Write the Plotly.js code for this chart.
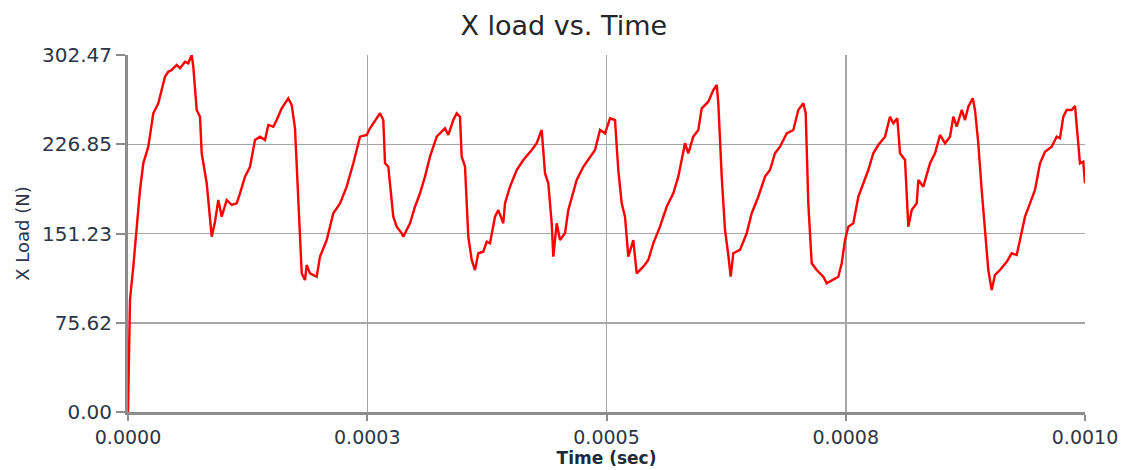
<!DOCTYPE html>
<html>
<head>
<meta charset="utf-8">
<script src="https://cdn.plot.ly/plotly-3.0.1.min.js"></script>
<style>
html,body{margin:0;padding:0;background:#fff;}
#chart{width:1123px;height:470px;}
</style>
</head>
<body>
<div id="chart"></div>
<script>
// Time in microseconds (converted to seconds for plotting)
const timeMicros = [
0,2.09,5.54,9.09,12.54,15.99,21.21,26.44,31.66,38.66,42.11,45.66,50.89,54.34,59.57,63.01,66.56,68.23,71.79,75.23,
77.01,82.24,87.46,90.91,94.36,97.91,103.13,108.36,113.58,117.03,122.26,127.48,132.71,137.93,143.16,146.61,151.83,155.38,160.61,167.50,
171.06,174.50,176.28,179.73,181.51,184.95,186.73,190.18,197.18,200.63,207.63,214.53,221.53,228.53,235.43,242.43,249.43,252.87,263.32,266.77,
268.55,272.00,277.22,280.77,286.00,287.67,294.67,299.90,305.12,310.35,315.57,322.57,326.02,331.24,334.69,339.92,343.47,346.92,348.69,352.14,
355.59,359.14,362.59,366.04,371.27,374.82,378.27,383.49,386.94,392.16,393.94,399.16,406.17,413.06,421.84,427.07,432.29,435.74,439.19,442.74,
444.41,447.96,451.41,456.64,460.09,463.64,468.86,475.76,482.76,487.98,493.21,498.43,503.66,508.88,512.33,515.88,519.33,522.78,528.00,531.56,
538.45,543.68,548.90,555.90,562.90,569.80,575.02,582.04,585.49,590.72,595.94,599.50,606.39,611.61,615.17,616.84,620.39,623.84,627.28,629.79,
632.51,639.50,646.51,651.73,658.63,665.63,670.85,676.07,681.30,688.30,695.20,700.42,705.65,708.16,710.87,714.43,719.65,726.55,730.10,737.00,
742.23,745.78,749.23,752.68,757.90,763.13,768.35,773.58,778.80,784.03,791.03,796.25,799.70,803.88,806.71,811.93,815.38,818.93,824.16,825.83,
831.06,838.06,843.28,848.50,853.73,858.95,862.40,865.96,871.18,874.63,878.08,882.65,885.05,888.50,892.05,895.50,898.95,902.50,905.95,911.18,
918.18,923.40,928.63,932.08,937.30,942.53,947.75,952.98,958.20,965.20,970.43,973.87,977.32,980.88,986.10,989.55,991.95,994.74,998.19,1000.0
];
// X load in newtons
const xLoad = [
0,94.9,123.1,159.9,188.1,210.7,224.8,253.1,261.6,284.1,288.3,289.8,294.0,291.2,296.8,295.4,302.5,292.6,255.9,250.2,
219.2,193.8,148.5,161.2,179.6,165.5,179.6,175.4,176.8,185.3,199.4,207.8,230.5,233.3,230.5,243.2,241.7,247.4,257.3,265.8,
260.1,240.4,210.7,151.4,117.5,111.8,124.5,117.5,114.6,131.6,145.7,168.4,176.8,190.9,210.7,233.3,234.7,240.4,253.1,247.4,
210.7,207.8,165.5,157.0,151.4,148.5,159.9,173.9,185.3,199.4,216.3,233.3,236.1,240.4,234.7,247.4,253.1,250.2,216.3,207.8,
148.5,128.8,120.3,134.5,135.8,144.3,142.9,165.5,171.1,159.9,176.8,190.9,205.0,213.5,222.0,227.7,238.9,202.2,193.8,159.9,
131.6,159.9,145.7,151.4,171.1,182.4,196.6,207.8,216.3,222.0,238.9,236.1,248.8,247.4,205.0,176.8,165.5,131.6,145.7,117.5,
123.1,128.8,142.9,157.0,173.9,185.3,199.4,227.7,219.2,233.3,238.9,257.3,262.9,272.8,277.1,261.6,199.4,154.2,133.0,114.6,
134.5,137.3,151.4,168.4,182.4,199.4,205.0,219.2,224.8,236.1,238.9,255.9,261.6,253.1,176.8,126.0,120.3,114.6,109.0,111.8,
114.6,126.0,145.7,157.0,159.9,182.4,193.8,205.0,219.2,226.2,233.3,250.2,244.6,248.8,219.2,213.5,157.0,171.1,176.8,196.6,
190.9,210.7,219.2,234.7,227.7,233.3,250.2,241.7,255.9,247.4,258.7,265.8,255.9,227.7,188.1,154.2,120.3,103.4,116.1,120.3,
127.3,134.5,133.0,145.7,165.5,176.8,188.1,210.7,220.5,224.8,233.3,231.9,250.2,255.9,255.9,259.3,238.9,210.7,212.1,193.8
];
const xTickVals = [0, 0.00025, 0.0005, 0.00075, 0.001];
const xTickText = ['0.0000', '0.0003', '0.0005', '0.0008', '0.0010'];
const yTickVals = [0, 75.62, 151.23, 226.85, 302.47];
const yTickText = ['0.00', '75.62', '151.23', '226.85', '302.47'];

const timeSec = timeMicros.map(t => t * 1e-6);

const trace = {
  x: timeSec, y: xLoad, type: 'scatter', mode: 'lines',
  line: {color: '#ff0000', width: 2.4}, hoverinfo: 'skip'
};

const fontFam = 'Verdana, "DejaVu Sans", sans-serif';
const layout = {
  width: 1123, height: 470,
  margin: {l: 128, r: 38, t: 55, b: 58},
  paper_bgcolor: '#ffffff', plot_bgcolor: '#ffffff',
  showlegend: false,
  title: {text: 'X load vs. Time', x: 0.502, xanchor: 'center', xref: 'container',
          yref: 'container', y: 0.945, yanchor: 'middle',
          font: {family: fontFam, size: 27, color: '#262626'}},
  xaxis: {
    range: [0, 0.001], tickvals: xTickVals, ticktext: xTickText,
    showgrid: true, gridcolor: '#a6a6a6', gridwidth: 1.5,
    showline: true, linecolor: '#8c8c8c', linewidth: 3,
    ticks: 'outside', ticklen: 6, tickwidth: 2, tickcolor: '#8c8c8c',
    tickfont: {family: fontFam, size: 19, color: '#2b3648'},
    zeroline: false, fixedrange: true,
    title: {text: '<b>Time (sec)</b>', standoff: 0, font: {family: '"DejaVu Sans", sans-serif', size: 17, color: '#1e2a3a'}}
  },
  yaxis: {
    range: [0, 302.47], tickvals: yTickVals, ticktext: yTickText,
    showgrid: true, gridcolor: '#a6a6a6', gridwidth: 1.5,
    showline: true, linecolor: '#8c8c8c', linewidth: 3,
    ticks: 'outside', ticklen: 9, tickwidth: 2, tickcolor: '#8c8c8c',
    tickfont: {family: fontFam, size: 20, color: '#2b3648'},
    zeroline: false, fixedrange: true,
    title: {text: 'X Load (N)', standoff: 8, font: {family: fontFam, size: 18, color: '#2b3648'}}
  }
};

Plotly.newPlot('chart', [trace], layout, {displayModeBar: false, staticPlot: true});
</script>
</body>
</html>
